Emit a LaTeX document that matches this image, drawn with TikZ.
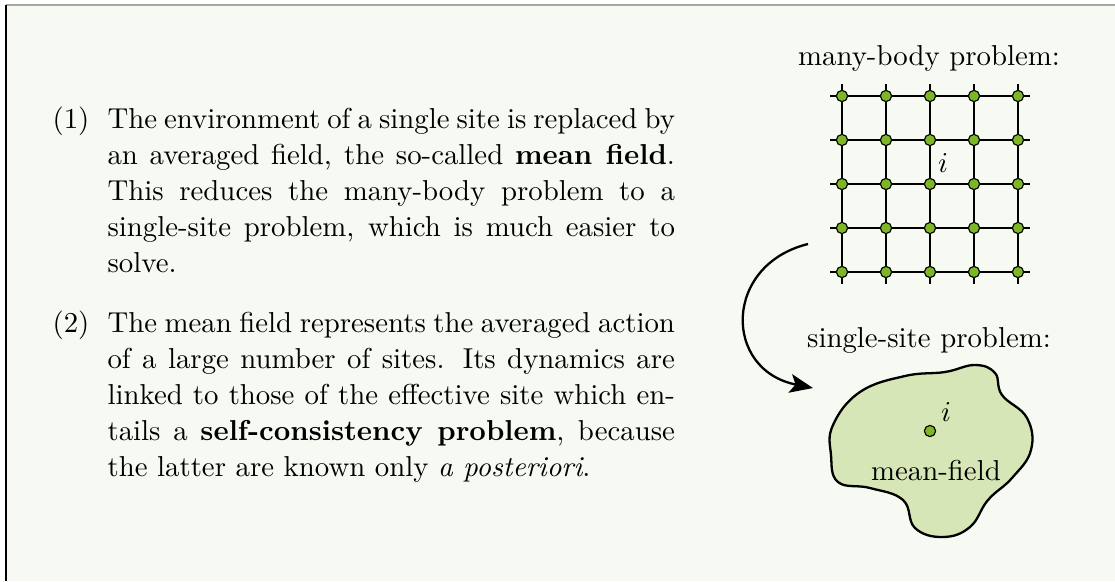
\documentclass[tikz,border=0pt]{standalone}
\usetikzlibrary{arrows.meta}
\definecolor{bgc}{RGB}{247,250,242}
\definecolor{sitec}{RGB}{125,182,38}
\definecolor{blobc}{RGB}{214,230,182}
\tolerance=10000
\hyphenpenalty=10000
\begin{document}
\begin{tikzpicture}[x=0.34722pt,y=-0.34722pt,
  site/.style={circle,draw=black,fill=sitec,line width=0.4pt,inner sep=0pt,minimum size=3.9pt},
  para/.style={anchor=north west,text width=197pt,inner sep=0pt,align=justify,
    font=\fontsize{10}{12.5}\selectfont},
  lbl/.style={anchor=base east,inner sep=0pt},
  title/.style={anchor=base,inner sep=0pt},
  gridline/.style={line width=0.6pt,black},
  outline/.style={line width=0.8pt,black}]
\useasboundingbox (0,0) rectangle (1115,581);
\fill[bgc] (6,5) rectangle (1115,581);
\draw[black!35,line width=0.4pt] (6,5) -- (1115,5);
\draw[black,line width=0.5pt] (6,5) -- (6,581);

% text
\node[lbl] (l1) at (90,128) {(1)};
\node[para] (t1) at (107,102.8) {\strut The environment of a single site is replaced by\linebreak an averaged field, the so-called \textbf{mean field}.\linebreak This reduces the many-body problem to a\linebreak single-site problem, which is much easier to\linebreak solve.};
\node[lbl] (l2) at (90,332) {(2)};
\node[para] (t2) at (107,306.8) {\strut The mean field represents the averaged action\linebreak of a large number of sites. Its dynamics are\linebreak linked to those of the effective site which en-\linebreak tails a \textbf{self-consistency problem}, because\linebreak the latter are known only \emph{a posteriori}.};

% many-body problem
\node[title] (h1) at (929,65) {many-body problem:};
\foreach \r in {96,140,184,228,272} \draw[gridline] (830,\r) -- (1030,\r);
\foreach \c in {842,886,930,974,1018} \draw[gridline] (\c,84) -- (\c,284);
\foreach \r [count=\i] in {96,140,184,228,272}
  \foreach \c [count=\j] in {842,886,930,974,1018}
    \node[site] (g-\i-\j) at (\c,\r) {};
\node[inner sep=0pt] (i1) at (943,163) {$i$};

% arrow
\coordinate (as) at (808,244);
\coordinate (ae) at (813,388);
\draw[outline,-{Stealth[length=8pt,width=6.5pt,inset=1.8pt]}] (as) .. controls (723,265) and (723,370) .. (ae);

% single-site problem
\node[title] (h2) at (929,347) {single-site problem:};
\draw[outline,fill=blobc] plot[smooth cycle,tension=0.7] coordinates {
  (833,425) (860,392) (905,376) (945,372) (975,365) (995,373) (1002,395)
  (1027,418) (1031,450) (1012,478) (988,500) (970,527) (943,537) (915,528)
  (903,500) (870,488) (838,482) (831,455)};
\node[site] (s0) at (930,431) {};
\node[inner sep=0pt] (i2) at (946,412) {$i$};
\node[title] (mf) at (936,480) {mean-field};
\end{tikzpicture}
\end{document}
